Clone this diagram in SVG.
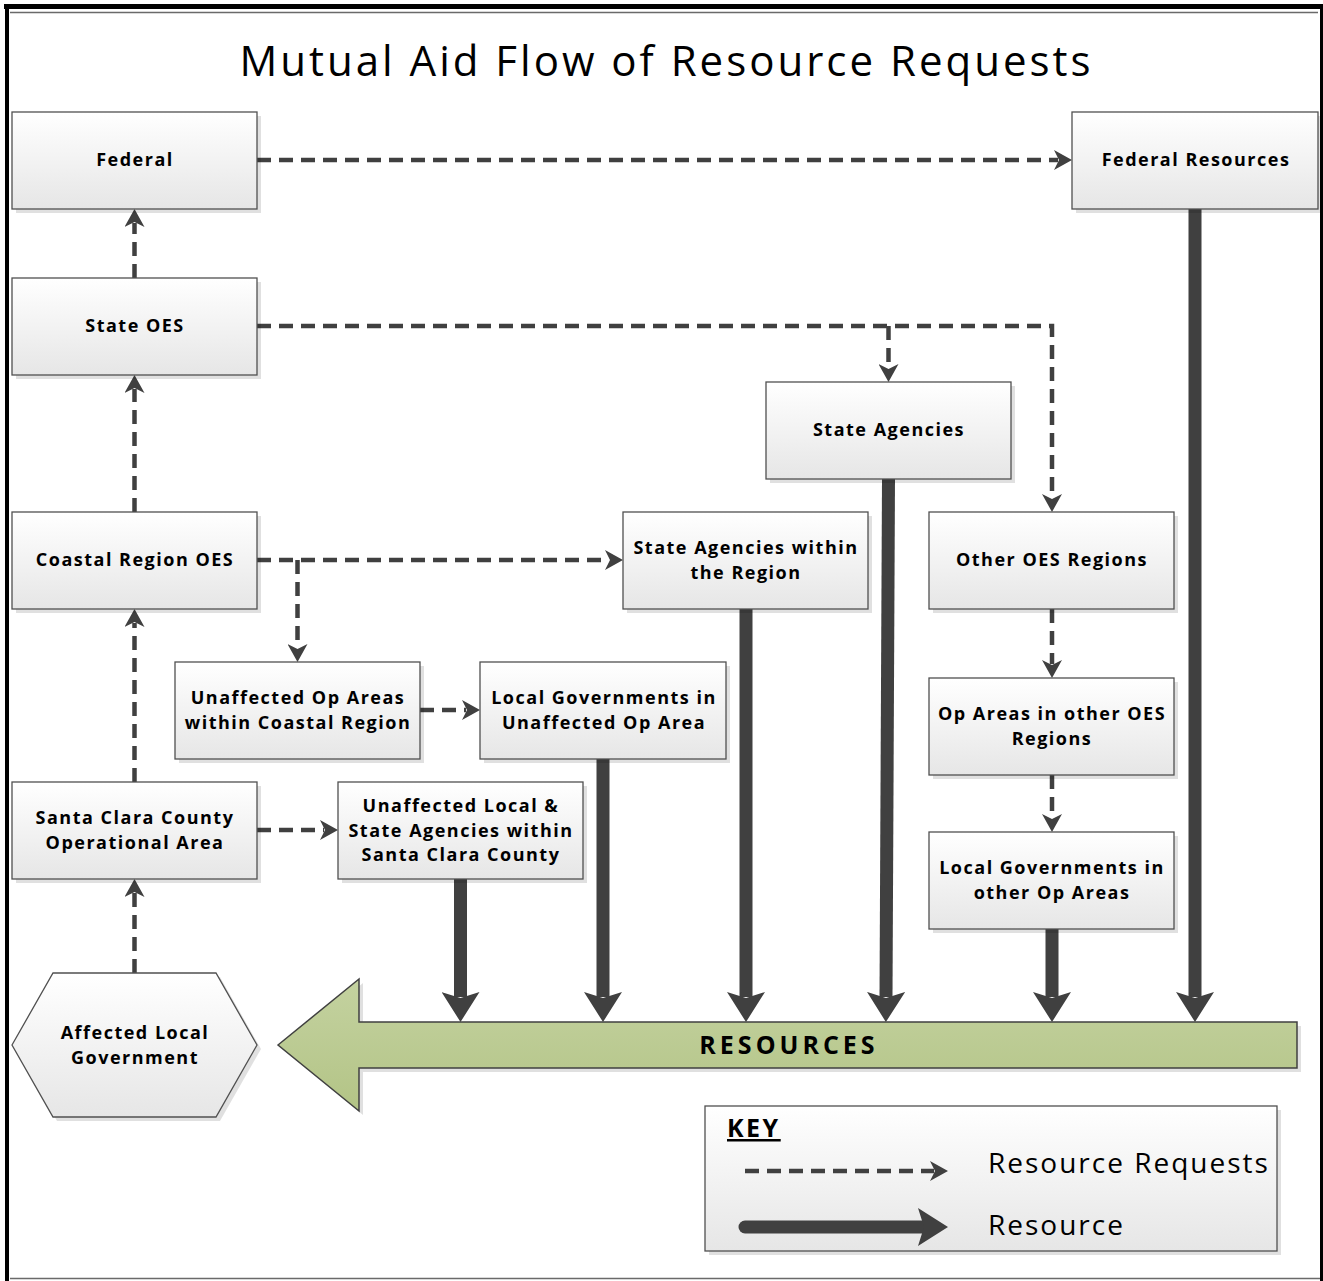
<svg xmlns="http://www.w3.org/2000/svg" width="1323" height="1281" viewBox="0 0 1323 1281">
<defs>
<linearGradient id="nodeGrad" x1="0" y1="0" x2="0" y2="1">
<stop offset="0" stop-color="#ffffff"/>
<stop offset="1" stop-color="#e6e6e6"/>
</linearGradient>
<linearGradient id="greenGrad" x1="0" y1="0" x2="0" y2="1">
<stop offset="0" stop-color="#c4d2a0"/>
<stop offset="1" stop-color="#b3c486"/>
</linearGradient>
<marker id="reqHead" markerUnits="userSpaceOnUse" markerWidth="20" markerHeight="20" refX="4" refY="10" orient="auto" viewBox="0 0 20 20">
<path d="M0,0 L18,10 L0,20 L5,10 Z" fill="#404040"/>
</marker>
<marker id="resHead" markerUnits="userSpaceOnUse" markerWidth="32" markerHeight="38" refX="5" refY="19" orient="auto" viewBox="0 0 32 38">
<path d="M0,0 L30,19 L0,38 L6,19 Z" fill="#404040"/>
</marker>
</defs>
<style>
.box{fill:url(#nodeGrad);stroke:#505050;stroke-width:1.3}
.shadow{fill:#000;opacity:0.12}
.lbl{font-family:"Open Sans","DejaVu Sans",sans-serif;font-weight:bold;font-size:18px;letter-spacing:1.5px;fill:#000;text-anchor:middle}
.keytxt{font-family:"Open Sans","DejaVu Sans",sans-serif;font-size:28px;letter-spacing:2px;fill:#000}
.req{fill:none;stroke:#404040;stroke-width:4.5;stroke-dasharray:14 8;marker-end:url(#reqHead)}
.res{fill:none;stroke:#404040;stroke-width:13;marker-end:url(#resHead)}
</style>
<rect width="1323" height="1281" fill="#ffffff"/>
<g id="frame">
<rect x="4" y="4" width="1319" height="5" fill="#000"/>
<rect x="5" y="4" width="4" height="1277" fill="#000"/>
<rect x="1320" y="4" width="3" height="1277" fill="#000"/>
<line x1="10" y1="12.5" x2="1318" y2="12.5" stroke="#6a6a6a" stroke-width="1.5"/>
<line x1="10" y1="1278.5" x2="1320" y2="1278.5" stroke="#6a6a6a" stroke-width="1.5"/>
</g>
<text id="title" x="666.5" y="76" font-family="Open Sans, DejaVu Sans, sans-serif" font-size="42" letter-spacing="3" fill="#000" text-anchor="middle">Mutual Aid Flow of Resource Requests</text>

<g id="connectors">
<path class="req" d="M257,160 H1058"/>
<path class="req" d="M134.5,278 V223"/>
<path class="req" d="M134.5,512 V389"/>
<path class="req" d="M134.5,782 V623"/>
<path class="req" d="M134.5,973 V893"/>
<path class="req" d="M257,326 H1052 V498"/>
<path class="req" d="M888.5,326 V368"/>
<path class="req" d="M257,560 H609"/>
<path class="req" d="M297.5,560 V648"/>
<path class="req" d="M420,710 H466"/>
<path class="req" d="M257,830 H324"/>
<path class="req" d="M1052,609 V664"/>
<path class="req" d="M1052,775 V818"/>
<path class="res" d="M460.5,879 V997"/>
<path class="res" d="M603,759 V997"/>
<path class="res" d="M746,609 V997"/>
<path class="res" d="M888.5,479 L886,997"/>
<path class="res" d="M1052,929 V997"/>
<path class="res" d="M1195,209 V997"/>
</g>

<g id="federal"><rect class="shadow" x="16" y="116" width="245" height="97"/><rect class="box" x="12" y="112" width="245" height="97"/><text class="lbl" x="135" y="166">Federal</text></g>
<g id="federal-resources"><rect class="shadow" x="1076" y="116" width="246" height="97"/><rect class="box" x="1072" y="112" width="246" height="97"/><text class="lbl" x="1196" y="166">Federal Resources</text></g>
<g id="state-oes"><rect class="shadow" x="16" y="282" width="245" height="97"/><rect class="box" x="12" y="278" width="245" height="97"/><text class="lbl" x="135" y="332">State OES</text></g>
<g id="state-agencies"><rect class="shadow" x="770" y="386" width="245" height="97"/><rect class="box" x="766" y="382" width="245" height="97"/><text class="lbl" x="889" y="436">State Agencies</text></g>
<g id="coastal-region-oes"><rect class="shadow" x="16" y="516" width="245" height="97"/><rect class="box" x="12" y="512" width="245" height="97"/><text class="lbl" x="135" y="566">Coastal Region OES</text></g>
<g id="state-agencies-region"><rect class="shadow" x="627" y="516" width="245" height="97"/><rect class="box" x="623" y="512" width="245" height="97"/><text class="lbl" x="746" y="554">State Agencies within</text><text class="lbl" x="746" y="579">the Region</text></g>
<g id="other-oes-regions"><rect class="shadow" x="933" y="516" width="245" height="97"/><rect class="box" x="929" y="512" width="245" height="97"/><text class="lbl" x="1052" y="566">Other OES Regions</text></g>
<g id="unaffected-op-areas"><rect class="shadow" x="179" y="666" width="245" height="97"/><rect class="box" x="175" y="662" width="245" height="97"/><text class="lbl" x="298" y="704">Unaffected Op Areas</text><text class="lbl" x="298" y="729">within Coastal Region</text></g>
<g id="local-gov-unaffected"><rect class="shadow" x="484" y="666" width="246" height="97"/><rect class="box" x="480" y="662" width="246" height="97"/><text class="lbl" x="604" y="704">Local Governments in</text><text class="lbl" x="604" y="729">Unaffected Op Area</text></g>
<g id="op-areas-other"><rect class="shadow" x="933" y="682" width="245" height="97"/><rect class="box" x="929" y="678" width="245" height="97"/><text class="lbl" x="1052" y="720">Op Areas in other OES</text><text class="lbl" x="1052" y="745">Regions</text></g>
<g id="santa-clara-oa"><rect class="shadow" x="16" y="786" width="245" height="97"/><rect class="box" x="12" y="782" width="245" height="97"/><text class="lbl" x="135" y="824">Santa Clara County</text><text class="lbl" x="135" y="849">Operational Area</text></g>
<g id="unaffected-local-state"><rect class="shadow" x="342" y="786" width="245" height="97"/><rect class="box" x="338" y="782" width="245" height="97"/><text class="lbl" x="461" y="812">Unaffected Local &amp;</text><text class="lbl" x="461" y="836.5">State Agencies within</text><text class="lbl" x="461" y="861">Santa Clara County</text></g>
<g id="local-gov-other"><rect class="shadow" x="933" y="836" width="245" height="97"/><rect class="box" x="929" y="832" width="245" height="97"/><text class="lbl" x="1052" y="874">Local Governments in</text><text class="lbl" x="1052" y="899">other Op Areas</text></g>
<g id="affected-local-gov"><polygon class="shadow" points="16,1049 57,977 220,977 261,1049 220,1121 57,1121"/><polygon class="box" points="12,1045 53,973 216,973 257,1045 216,1117 53,1117"/><text class="lbl" x="135" y="1039">Affected Local</text><text class="lbl" x="135" y="1064">Government</text></g>

<g id="resources">
<path class="shadow" d="M282,1049 L363,983 L363,1026 L1301,1026 L1301,1072 L363,1072 L363,1115 Z"/>
<path d="M278,1045 L359,979 L359,1022 L1297,1022 L1297,1068 L359,1068 L359,1111 Z" fill="url(#greenGrad)" stroke="#404040" stroke-width="1.5"/>
<text x="789" y="1054" font-family="Open Sans, DejaVu Sans, sans-serif" font-weight="bold" font-size="25" letter-spacing="4" fill="#000" text-anchor="middle">RESOURCES</text>
</g>

<g id="key">
<rect class="shadow" x="709" y="1110" width="572" height="145"/>
<rect class="box" x="705" y="1106" width="572" height="145"/>
<text x="727" y="1137" font-family="Open Sans, DejaVu Sans, sans-serif" font-weight="bold" font-size="25" letter-spacing="2.5" fill="#000" text-decoration="underline">KEY</text>
<path class="req" d="M745,1171 H934"/>
<path d="M745,1227 H923" fill="none" stroke="#404040" stroke-width="13" stroke-linecap="round" marker-end="url(#resHead)"/>
<text class="keytxt" x="988" y="1173">Resource Requests</text>
<text class="keytxt" x="988" y="1235">Resource</text>
</g>
</svg>
